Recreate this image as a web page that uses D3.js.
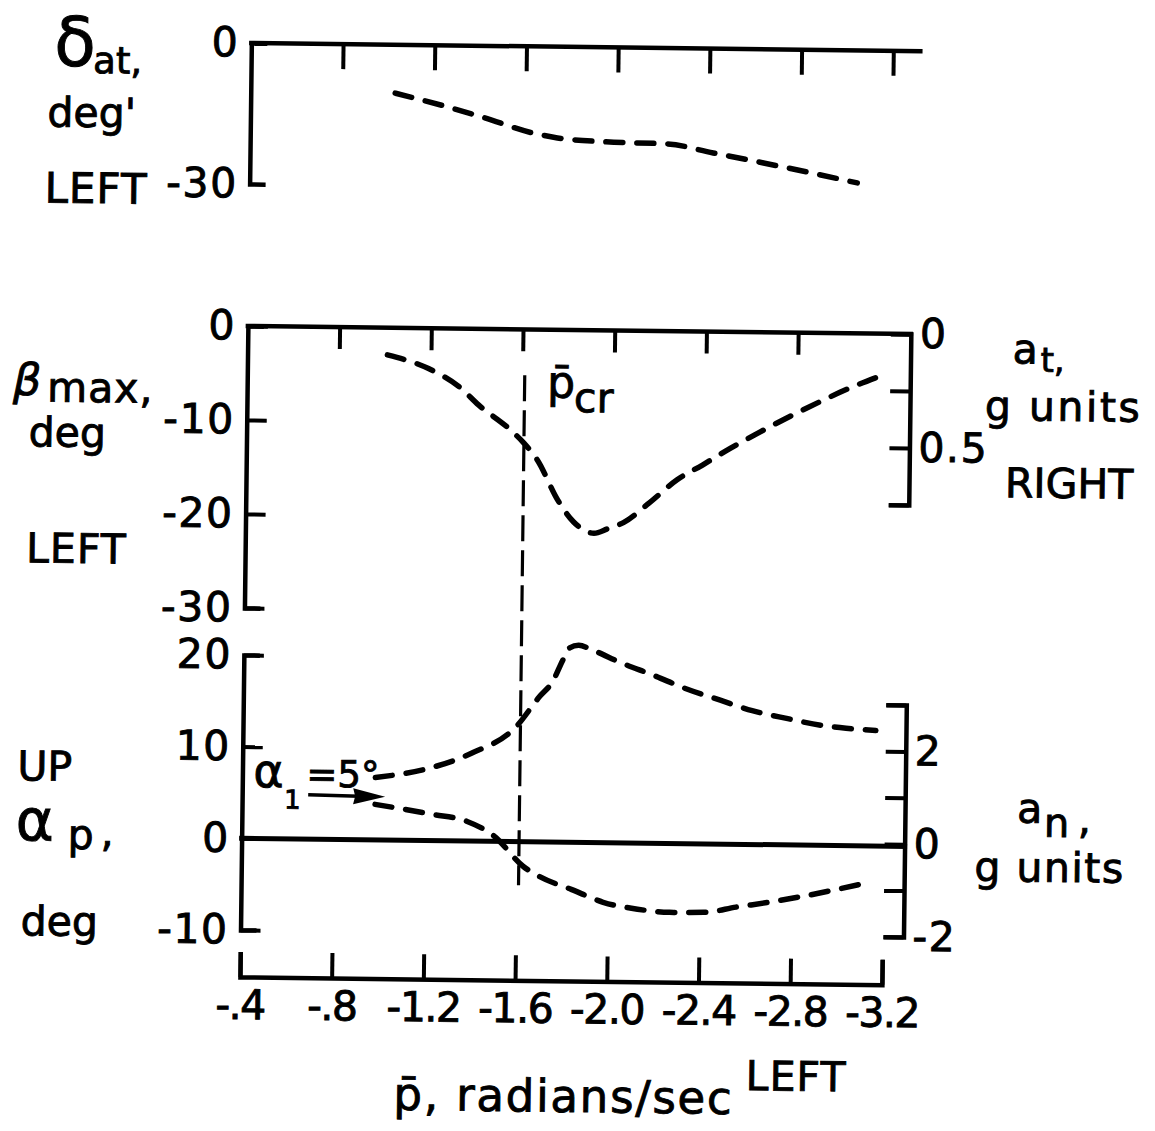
<!DOCTYPE html>
<html>
<head>
<meta charset="utf-8">
<script src="https://cdn.jsdelivr.net/npm/d3@7"></script>
<style>
  html, body { margin: 0; padding: 0; background: #fff; }
  svg { display: block; }
  text { font-family: "DejaVu Sans", "Liberation Sans", sans-serif; fill: #000;
         stroke: #000; stroke-width: 0.9px; }
</style>
</head>
<body>
<svg id="chart" width="1155" height="1131"></svg>
<script>
// Roll rate (radians/sec) shared by the three panels
const pTicks = [-0.4, -0.8, -1.2, -1.6, -2.0, -2.4, -2.8, -3.2];
const pTickLabels = ["-.4", "-.8", "-1.2", "-1.6", "-2.0", "-2.4", "-2.8", "-3.2"];
const pCritical = -1.61;

// Top panel: aileron deflection, deg (LEFT)
const deltaP   = [-1.03, -1.26, -1.42, -1.63, -1.74, -1.95, -2.22, -2.42, -2.64, -2.85, -3.05];
const deltaDeg = [-10.3, -13.1, -15.3, -18.4, -19.4, -20.1, -20.4, -22.2, -24.2, -26.2, -28.2];
const deltaTicks = [0, -30];

// Middle panel: maximum sideslip, deg (LEFT) and a_t scale, g units (RIGHT)
const betaP   = [-1.01, -1.19, -1.33, -1.41, -1.55, -1.61, -1.67, -1.76, -1.83, -1.92, -1.98,
                 -2.05, -2.16, -2.28, -2.39, -2.51, -2.64, -2.77, -2.90, -3.03, -3.15];
const betaDeg = [-2.9, -4.3, -6.3, -8.1, -10.7, -12.1, -13.9, -18.1, -20.4, -21.6, -21.1,
                 -20.4, -18.3, -15.8, -14.2, -12.4, -10.6, -8.9, -7.3, -5.8, -4.6];
const betaTicks = [0, -10, -20, -30];
const atTicks = [0, 0.25, 0.5, 0.75];
const atLabels = ["0", "", "0.5", ""];

// Bottom panel: angle of attack, deg (UP) and normal acceleration, g units
const alphaP   = [-0.98, -1.23, -1.40, -1.59, -1.69, -1.75, -1.79, -1.82, -1.86, -1.92,
                  -2.04, -2.19, -2.33, -2.48, -2.62, -2.77, -2.92, -3.03, -3.16];
const alphaDeg = [6.8, 8.0, 9.6, 12.5, 15.8, 17.6, 19.8, 21.2, 21.5, 21.0,
                  19.7, 18.3, 16.9, 15.7, 14.6, 13.8, 13.1, 12.8, 12.6];
const anP = [-0.98, -1.23, -1.38, -1.50, -1.63, -1.70, -1.84, -1.98, -2.13, -2.27,
             -2.42, -2.56, -2.71, -2.85, -3.00, -3.14];
const anG = [0.72, 0.52, 0.38, 0.07, -0.58, -0.79, -1.06, -1.33, -1.47, -1.53,
             -1.52, -1.40, -1.28, -1.15, -0.99, -0.83];
const alphaTicks = [20, 10, 0, -10];
const anTicks = [3, 2, 1, 0, -1, -2];
const anLabels = ["", "2", "", "0", "", "-2"];

// ---- scales ----
const x = d3.scaleLinear().domain([-0.4, -3.2]).range([245, 887]);
const xLeft = 245, xRight = 908;

const yDelta = d3.scaleLinear().domain([0, -30]).range([47, 188]);
const yBeta  = d3.scaleLinear().domain([0, -30]).range([330, 612]);
const yAt    = d3.scaleLinear().domain([0, 0.75]).range([330, 501]);
const yAlpha = d3.scaleLinear().domain([20, -10]).range([659, 934]);
const yAn    = d3.scaleLinear().domain([3, -2]).range([701, 933]);
const xAxisY = 981;

const svg = d3.select("#chart");
svg.append("rect").attr("width", 1155).attr("height", 1131).attr("fill", "#fff");

// the whole sheet sits slightly skewed
const g = svg.append("g").attr("transform", "rotate(0.7 577 565)");

const AXIS_W = 4.5, FONT = 41;

function styleAxis(sel, spacing) {
  sel.attr("font-family", null).attr("font-size", FONT);
  sel.selectAll("path.domain").attr("stroke", "#000").attr("stroke-width", AXIS_W)
     .attr("fill", "none").attr("stroke-linejoin", "miter");
  sel.selectAll(".tick line").attr("stroke", "#000").attr("stroke-width", AXIS_W - 0.5);
  sel.selectAll(".tick text").attr("fill", "#000")
     .attr("letter-spacing", spacing === undefined ? 1.5 : spacing);
}

function hline(x1, x2, y, w) {
  g.append("line").attr("x1", x1).attr("x2", x2).attr("y1", y).attr("y2", y)
    .attr("stroke", "#000").attr("stroke-width", w || AXIS_W).attr("stroke-linecap", "square");
}

function curve(ps, vs, yScale) {
  const pts = ps.map((p, i) => [x(p), yScale(vs[i])]);
  g.append("path")
    .attr("d", d3.line().curve(d3.curveMonotoneX)(pts))
    .attr("fill", "none").attr("stroke", "#000").attr("stroke-width", 5.5)
    .attr("stroke-linecap", "round").attr("stroke-dasharray", "17 14");
}

function label(str, lx, ly, size, opts) {
  const t = g.append("text").attr("x", lx).attr("y", ly).attr("font-size", size).text(str);
  if (opts && opts.italic) t.attr("font-style", "italic");
  if (opts && opts.ls) t.attr("letter-spacing", opts.ls);
  return t;
}

// ---------- top panel ----------
hline(xLeft, 914, yDelta(0));
g.append("g").attr("transform", `translate(0,${yDelta(0)})`)
  .call(d3.axisBottom(x).tickValues(pTicks.slice(1)).tickSize(25).tickFormat(""))
  .call(s => { styleAxis(s); s.select(".domain").remove(); });
g.append("g").attr("transform", `translate(${xLeft},0)`)
  .call(d3.axisLeft(yDelta).tickValues(deltaTicks).tickSizeInner(0).tickSizeOuter(-16)
        .tickPadding(12).tickFormat(d => String(d)))
  .call(s => styleAxis(s));
curve(deltaP, deltaDeg, yDelta);

label("δ", 48, 72, 68);
label("at,", 87, 79, 37);
label("deg'", 42, 133, 41);
label("LEFT", 40, 209, 42, { ls: 1 });

// ---------- middle panel ----------
hline(xLeft, xRight, yBeta(0));
g.append("g").attr("transform", `translate(0,${yBeta(0)})`)
  .call(d3.axisBottom(x).tickValues(pTicks.slice(1, 7)).tickSize(22).tickFormat(""))
  .call(s => { styleAxis(s); s.select(".domain").remove(); });
g.append("g").attr("transform", `translate(${xLeft},0)`)
  .call(d3.axisLeft(yBeta).tickValues(betaTicks).tickSizeInner(-20).tickSizeOuter(-16)
        .tickPadding(12).tickFormat(d => String(d)))
  .call(s => styleAxis(s));
g.append("g").attr("transform", `translate(${xRight},0)`)
  .call(d3.axisRight(yAt).tickValues(atTicks).tickSizeInner(-20).tickSizeOuter(-20)
        .tickPadding(9).tickFormat((d, i) => atLabels[i]))
  .call(s => styleAxis(s));
curve(betaP, betaDeg, yBeta);

label("β", 11, 402, 44, { italic: true });
label("max,", 45, 408, 41, { ls: 1 });
label("deg", 27, 453, 41);
label("LEFT", 26, 569, 41, { ls: 1 });
label("a", 1010, 358, 41);
label("t,", 1038, 366, 34);
label("g units", 983, 415, 41, { ls: 2.5 });
label("RIGHT", 1004, 492, 41);
label("p\u0304", 545, 398, 44);
label("cr", 572, 412, 41);

// critical roll rate marker
g.append("line")
  .attr("x1", x(pCritical)).attr("x2", x(pCritical)).attr("y1", 376).attr("y2", 886)
  .attr("stroke", "#000").attr("stroke-width", 3.2).attr("stroke-dasharray", "26 9");

// ---------- bottom panel ----------
hline(xLeft, xRight, yAlpha(0), 5);
g.append("g").attr("transform", `translate(${xLeft},0)`)
  .call(d3.axisLeft(yAlpha).tickValues(alphaTicks).tickSizeInner(-20).tickSizeOuter(-16)
        .tickPadding(12).tickFormat(d => String(d)))
  .call(s => styleAxis(s));
g.append("g").attr("transform", `translate(${xRight},0)`)
  .call(d3.axisRight(yAn).tickValues(anTicks).tickSizeInner(-20).tickSizeOuter(-20)
        .tickPadding(9).tickFormat((d, i) => anLabels[i]))
  .call(s => styleAxis(s));
curve(alphaP, alphaDeg, yAlpha);
curve(anP, anG, yAn);

label("UP", 20, 787, 41);
label("α", 19, 847, 58);
label("p", 71, 855, 41);
label(",", 104, 852, 41);
label("deg", 25, 942, 41);
label("a", 1020, 817, 41);
label("n", 1047, 831, 40);
label(",", 1081, 827, 41);
label("g units", 978, 876, 41, { ls: 1.5 });

// initial angle of attack note
label("α", 256, 791, 46);
label("1", 287, 812, 26);
label("=5°", 309, 790, 37);
g.append("line").attr("x1", 311).attr("y1", 798).attr("x2", 362).attr("y2", 799)
  .attr("stroke", "#000").attr("stroke-width", 3.5);
g.append("path").attr("d", "M388,799 L356,791 L358,799 L356,807 Z").attr("fill", "#000");

// ---------- roll rate axis ----------
g.append("g").attr("transform", `translate(0,${xAxisY})`)
  .call(d3.axisBottom(x).tickValues(pTicks).tickSizeInner(-25).tickSizeOuter(-25)
        .tickPadding(13).tickFormat((d, i) => pTickLabels[i]))
  .call(s => styleAxis(s, -1.5));

label("LEFT", 752, 1088, 41, { ls: 1 });
label("p\u0304, radians/sec", 400, 1112, 45, { ls: 1.8 });
</script>
</body>
</html>
